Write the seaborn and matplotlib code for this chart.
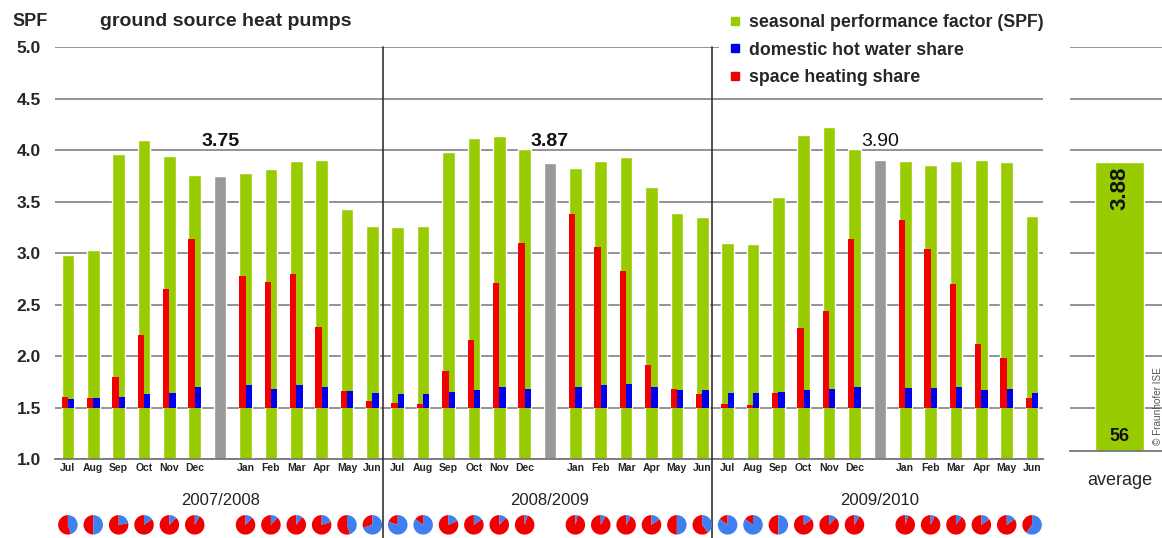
import matplotlib
matplotlib.use("Agg")
import matplotlib.pyplot as plt
from matplotlib.lines import Line2D
import pandas as pd
import seaborn as sns

# values
months = ["Jul", "Aug", "Sep", "Oct", "Nov", "Dec", "Jan", "Feb", "Mar", "Apr", "May", "Jun"]
seasons = ["2007/2008", "2008/2009", "2009/2010"]
season_spf = [3.75, 3.87, 3.90]

spf_0708 = [2.98, 3.03, 3.96, 4.10, 3.94, 3.76, 3.78, 3.82, 3.89, 3.90, 3.43, 3.26]
spf_0809 = [3.25, 3.26, 3.98, 4.12, 4.14, 4.01, 3.83, 3.89, 3.93, 3.64, 3.39, 3.35]
spf_0910 = [3.10, 3.09, 3.54, 4.15, 4.22, 4.01, 3.89, 3.85, 3.89, 3.90, 3.88, 3.36]

heat_0708 = [1.60, 1.59, 1.80, 2.20, 2.65, 3.14, 2.78, 2.72, 2.80, 2.28, 1.66, 1.56]
heat_0809 = [1.54, 1.53, 1.85, 2.16, 2.71, 3.10, 3.38, 3.06, 2.83, 1.91, 1.68, 1.63]
heat_0910 = [1.53, 1.52, 1.64, 2.27, 2.44, 3.14, 3.32, 3.04, 2.70, 2.12, 1.98, 1.59]

dhw_0708 = [1.58, 1.59, 1.60, 1.63, 1.64, 1.70, 1.72, 1.68, 1.72, 1.70, 1.66, 1.64]
dhw_0809 = [1.63, 1.63, 1.65, 1.67, 1.70, 1.68, 1.70, 1.72, 1.73, 1.70, 1.67, 1.67]
dhw_0910 = [1.64, 1.64, 1.65, 1.67, 1.68, 1.70, 1.69, 1.69, 1.70, 1.67, 1.68, 1.64]

# space heating share of the heat delivered, percent (pies)
pie_heat_0708 = [55, 50, 78, 85, 88, 92, 88, 88, 90, 80, 55, 30]
pie_heat_0809 = [20, 15, 82, 85, 88, 95, 96, 92, 92, 85, 50, 60]
pie_heat_0910 = [15, 15, 50, 85, 88, 92, 95, 93, 90, 85, 85, 40]

avg_spf = 3.88
n_systems = 56

GREEN = "#99cc00"
GRAY = "#999999"
RED = "#f20000"
BLUE = "#0000f0"
PIE_BLUE = "#3f7ff0"
GRID = "#8a8a8a"

spf_all = [spf_0708, spf_0809, spf_0910]
heat_all = [heat_0708, heat_0809, heat_0910]
dhw_all = [dhw_0708, dhw_0809, dhw_0910]
pie_all = [pie_heat_0708, pie_heat_0809, pie_heat_0910]

rows = []
for i, season in enumerate(seasons):
    for j, month in enumerate(months):
        slot = i * 13 + j + (1 if j >= 6 else 0)
        rows.append(dict(slot=slot, spf=spf_all[i][j], heat=heat_all[i][j],
                         dhw=dhw_all[i][j], pie=pie_all[i][j], label=month, kind="month"))
    rows.append(dict(slot=i * 13 + 6, spf=season_spf[i], heat=None, dhw=None,
                     pie=None, label="", kind="season"))
df = pd.DataFrame(rows).sort_values("slot").reset_index(drop=True)
mdf = df[df["kind"] == "month"]

sns.set_theme(style="white")
plt.rcParams["font.family"] = ["Liberation Sans", "DejaVu Sans"]

fig = plt.figure(figsize=(11.62, 5.38), dpi=100)
ax = fig.add_axes([0.0473, 0.1468, 0.8503, 0.7658])

sns.barplot(data=df, x="slot", y="spf", hue="kind", palette={"month": GREEN, "season": GRAY},
            native_scale=True, width=0.5, dodge=False, legend=False, errorbar=None,
            saturation=1, ax=ax, zorder=2)
ax.bar(mdf["slot"] - 0.125, mdf["heat"] - 1.5, width=0.25, bottom=1.5, color=RED,
       linewidth=0, zorder=3)
ax.bar(mdf["slot"] + 0.125, mdf["dhw"] - 1.5, width=0.25, bottom=1.5, color=BLUE,
       linewidth=0, zorder=3)

ax.set_xlim(-0.51, 38.43)
ax.set_ylim(1.0, 5.0)
ax.set_yticks([1.0, 1.5, 2.0, 2.5, 3.0, 3.5, 4.0, 4.5, 5.0])
ax.set_yticklabels([f"{v:.1f}" for v in ax.get_yticks()], fontsize=12.5, fontweight="bold")
ax.set_xticks(mdf["slot"])
ax.set_xticklabels(mdf["label"], fontsize=7.5, fontweight="bold")
ax.tick_params(axis="y", length=0, pad=10)
ax.tick_params(axis="x", length=0, pad=3)
ax.set_xlabel("")
ax.set_ylabel("")
ax.yaxis.grid(True, color=GRID, lw=1.3, zorder=0)
ax.set_axisbelow(True)
for side in ["left", "right", "top"]:
    ax.spines[side].set_visible(False)
ax.spines["bottom"].set_color("#777777")
ax.spines["bottom"].set_linewidth(1.3)

xt = ax.get_xaxis_transform()
for d in [12.4, 25.4]:
    ax.plot([d, d], [1.0, -0.195], transform=xt, color="#333333", lw=1.2, clip_on=False, zorder=4)

bold_labels = ["bold", "bold", "normal"]
for i, season in enumerate(seasons):
    gslot = i * 13 + 6
    ax.text(gslot, 4.08, f"{season_spf[i]:.2f}", ha="center", va="center",
            fontsize=14, fontweight=bold_labels[i], color="#111111")
    ax.text(gslot, -0.1, season, transform=xt, ha="center", va="center",
            fontsize=12, color="#222222")

for _, r in mdf.iterrows():
    pax = ax.inset_axes([r["slot"] - 0.4, -0.184, 0.8, 0.0485], transform=xt)
    pax.pie([r["pie"], 100 - r["pie"]], colors=[RED, PIE_BLUE], startangle=90,
            counterclock=True, radius=1.22, wedgeprops={"linewidth": 0})

# average panel
avg = fig.add_axes([0.9208, 0.1617, 0.0792, 0.7509])
sns.barplot(x=["average"], y=[avg_spf], color=GREEN, saturation=1, width=0.8, ax=avg, zorder=2)
avg.set_xlim(-0.81, 0.69)
avg.set_ylim(1.078, 5.0)
avg.set_yticks([1.5, 2.0, 2.5, 3.0, 3.5, 4.0, 4.5, 5.0])
avg.set_yticklabels([])
avg.tick_params(axis="both", length=0)
avg.tick_params(axis="x", labelsize=13, pad=15)
avg.yaxis.grid(True, color=GRID, lw=1.3, zorder=0)
avg.set_axisbelow(True)
for side in ["left", "right", "top"]:
    avg.spines[side].set_visible(False)
avg.spines["bottom"].set_color("#777777")
avg.spines["bottom"].set_linewidth(1.3)
avg.text(0, 3.63, f"{avg_spf:.2f}", rotation=90, ha="center", va="center",
         fontsize=16, fontweight="bold", color="#111111")
avg.text(0, 1.22, str(n_systems), ha="center", va="center",
         fontsize=13, fontweight="bold", color="#111111")
avg.text(0.63, 1.51, "© Fraunhofer ISE", rotation=90, ha="center", va="center",
         fontsize=7.2, color="#555555")

fig.text(12 / 1162, 1 - 22 / 538, "SPF", ha="left", va="center", fontsize=13, fontweight="bold")
fig.text(100 / 1162, 1 - 22 / 538, "ground source heat pumps", ha="left", va="center",
         fontsize=14, fontweight="bold")

handles = [Line2D([], [], marker="s", ls="none", markersize=6, color=c)
           for c in [GREEN, BLUE, RED]]
labels = ["seasonal performance factor (SPF)", "domestic hot water share", "space heating share"]
fig.legend(handles, labels, loc="upper left", bbox_to_anchor=(710 / 1162, 1 + 2 / 538),
           prop={"size": 12.8, "weight": "bold"}, frameon=True, facecolor="white",
           edgecolor="none", framealpha=1, fancybox=False, handletextpad=0.3,
           labelspacing=0.6, handlelength=1.0, borderpad=0.4)

fig.savefig("out.png", dpi=100)
